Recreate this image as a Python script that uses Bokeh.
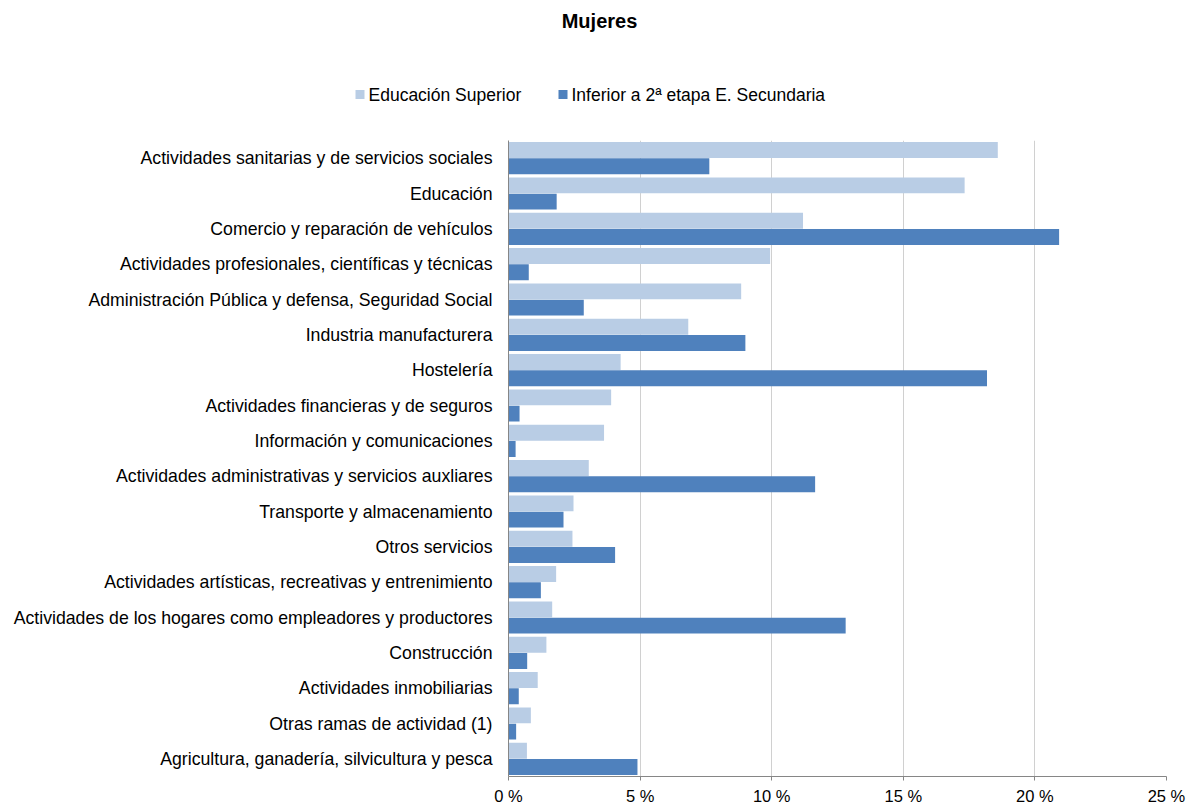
from bokeh.plotting import figure
from bokeh.models import FactorRange, ColumnDataSource, Label, FixedTicker, Range1d
from bokeh.layouts import column
from bokeh.transform import dodge
from bokeh.embed import file_html
from bokeh.resources import INLINE

title = "Mujeres"
series_names = ["Educación Superior", "Inferior a 2ª etapa E. Secundaria"]
categories = [
    "Actividades sanitarias y de servicios sociales",
    "Educación",
    "Comercio y reparación de vehículos",
    "Actividades profesionales, científicas y técnicas",
    "Administración Pública y defensa, Seguridad Social",
    "Industria manufacturera",
    "Hostelería",
    "Actividades financieras y de seguros",
    "Información y comunicaciones",
    "Actividades administrativas y servicios auxliares",
    "Transporte y almacenamiento",
    "Otros servicios",
    "Actividades artísticas, recreativas y entrenimiento",
    "Actividades de los hogares como empleadores y productores",
    "Construcción",
    "Actividades inmobiliarias",
    "Otras ramas de actividad (1)",
    "Agricultura, ganadería, silvicultura y pesca",
]
superior = [18.59, 17.33, 11.19, 9.94, 8.84, 6.83, 4.26, 3.90, 3.63, 3.05, 2.47, 2.43, 1.81, 1.66, 1.44, 1.11, 0.85, 0.70]
inferior = [7.63, 1.83, 20.92, 0.77, 2.86, 9.00, 18.18, 0.42, 0.27, 11.65, 2.09, 4.05, 1.23, 12.81, 0.71, 0.39, 0.29, 4.90]
x_ticks = [0, 5, 10, 15, 20, 25]
x_tick_labels = ["0 %", "5 %", "10 %", "15 %", "20 %", "25 %"]

LIGHT = "#B9CDE5"
DARK = "#4F81BD"
FONT = "Liberation Sans"
W, H_HEAD, H_MAIN = 1194, 140, 667

# ---------- header: title + legend ----------
head = figure(width=W, height=H_HEAD, x_range=Range1d(0, W), y_range=Range1d(H_HEAD, 0),
              output_backend="svg", toolbar_location=None, min_border=0)
head.axis.visible = False
head.grid.visible = False
head.outline_line_color = None
head.frame_align = False

head.add_layout(Label(x=599, y=20, text=title, text_font=FONT, text_font_style="bold",
                      text_font_size="20px", text_align="center", text_baseline="middle",
                      text_color="#000000"))
legend_colors = [LIGHT, DARK]
legend_x = [355, 558]
for name, col, lx in zip(series_names, legend_colors, legend_x):
    head.quad(left=lx, right=lx + 9, top=89.5, bottom=98.5, fill_color=col, line_color=None)
    head.add_layout(Label(x=lx + 13, y=94, text=name, text_font=FONT, text_font_size="17.5px",
                          text_align="left", text_baseline="middle", text_color="#000000"))

# ---------- main chart ----------
src = ColumnDataSource(dict(cat=categories, sup=superior, inf=inferior))

p = figure(
    width=W, height=H_MAIN,
    y_range=FactorRange(*list(reversed(categories))),
    x_range=(0, 25),
    output_backend="svg", toolbar_location=None,
    min_border_left=508, min_border_right=28, min_border_top=0, min_border_bottom=0,
)
p.outline_line_color = None
p.frame_align = False

p.hbar(y=dodge("cat", 0.23, range=p.y_range), right="sup", left=0, height=0.45,
       source=src, fill_color=LIGHT, line_color=None)
p.hbar(y=dodge("cat", -0.23, range=p.y_range), right="inf", left=0, height=0.45,
       source=src, fill_color=DARK, line_color=None)

p.xaxis.ticker = FixedTicker(ticks=x_ticks)
p.xaxis.major_label_overrides = {t: l for t, l in zip(x_ticks, x_tick_labels)}
p.xaxis.axis_line_color = "#868686"
p.xaxis.major_tick_line_color = "#868686"
p.xaxis.major_tick_out = 4
p.xaxis.major_tick_in = 0
p.xaxis.minor_tick_line_color = None
p.xaxis.major_label_standoff = 6
p.xaxis.major_label_text_font = FONT
p.xaxis.major_label_text_font_size = "16.5px"
p.xaxis.major_label_text_color = "#000000"

p.yaxis.axis_line_color = "#868686"
p.yaxis.major_tick_line_color = None
p.yaxis.major_tick_out = 0
p.yaxis.major_tick_in = 0
p.yaxis.minor_tick_line_color = None
p.yaxis.major_label_standoff = 16
p.yaxis.major_label_text_font = FONT
p.yaxis.major_label_text_font_size = "17.7px"
p.yaxis.major_label_text_color = "#000000"

p.xgrid.grid_line_color = "#D0D0D0"
p.xgrid.ticker = FixedTicker(ticks=x_ticks)
p.ygrid.grid_line_color = None

layout = column(head, p, spacing=0)
open("out.html", "w").write(file_html(layout, INLINE))
